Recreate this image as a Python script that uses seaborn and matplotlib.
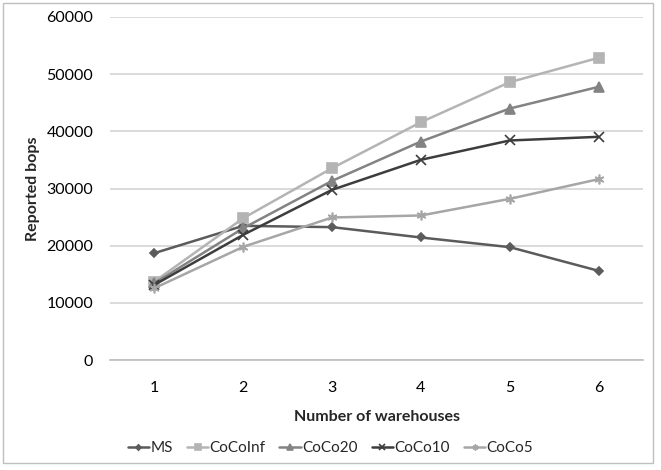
import matplotlib
matplotlib.use("Agg")
import matplotlib.pyplot as plt
import seaborn as sns
import pandas as pd
from matplotlib.patches import Rectangle

warehouses = [1, 2, 3, 4, 5, 6]
series_names = ["MS", "CoCoInf", "CoCo20", "CoCo10", "CoCo5"]
ms = [18700, 23470, 23240, 21430, 19740, 15600]
coco_inf = [13730, 24810, 33560, 41600, 48600, 52860]
coco20 = [13440, 23060, 31340, 38220, 43990, 47780]
coco10 = [13150, 21900, 29770, 35020, 38400, 39040]
coco5 = [12570, 19800, 24930, 25280, 28190, 31630]
y_ticks = [0, 10000, 20000, 30000, 40000, 50000, 60000]

values = [ms, coco_inf, coco20, coco10, coco5]
df = pd.DataFrame({
    "warehouses": warehouses * len(series_names),
    "bops": [v for s in values for v in s],
    "series": [n for n in series_names for _ in warehouses],
})

palette = {"MS": "#5b5b5b", "CoCoInf": "#b4b4b4", "CoCo20": "#838383",
           "CoCo10": "#3d3d3d", "CoCo5": "#a6a6a6"}
markers = {"MS": "D", "CoCoInf": "s", "CoCo20": "^", "CoCo10": "x",
           "CoCo5": (6, 2, 0)}
sizes = {"MS": 4.5, "CoCoInf": 6.5, "CoCo20": 6.5, "CoCo10": 6.5, "CoCo5": 7}

sns.set_theme(style="white")
plt.rcParams["font.family"] = ["Lato", "DejaVu Sans"]

fig = plt.figure(figsize=(6.61, 4.70), dpi=100)
ax = fig.add_axes([110 / 661, 1 - 360 / 470, 533 / 661, 343 / 470])

for name in series_names:
    sub = df[df["series"] == name]
    sns.lineplot(data=sub, x="warehouses", y="bops", ax=ax,
                 color=palette[name], marker=markers[name],
                 markersize=sizes[name], markeredgecolor=palette[name],
                 markeredgewidth=1.2, linewidth=1.8, label=name)

ax.set_xlim(0.5, 6.5)
ax.set_ylim(0, 60000)
ax.set_yticks(y_ticks)
ax.set_yticklabels([str(t) for t in y_ticks])
ax.set_xticks(warehouses)
ax.set_xticklabels([str(w) for w in warehouses])
ax.yaxis.grid(True, color="#d4d4d4", linewidth=1.2)
ax.set_axisbelow(True)
for side in ["top", "right", "left"]:
    ax.spines[side].set_visible(False)
ax.spines["bottom"].set_color("#bdbdbd")
ax.spines["bottom"].set_linewidth(1.2)
ax.tick_params(axis="both", length=0, labelsize=11.5, colors="#000000")
ax.tick_params(axis="y", pad=12)
ax.tick_params(axis="x", pad=15)

ax.set_xlabel("Number of warehouses", fontsize=11.5, fontweight="bold",
              labelpad=11)
ax.set_ylabel("Reported bops", fontsize=11.5, fontweight="bold", labelpad=5)

ax.legend(loc="center", bbox_to_anchor=(0.5, 1 - 448 / 470),
          bbox_transform=fig.transFigure, ncol=5,
          frameon=False, fontsize=11, handlelength=1.4, handletextpad=0.1,
          columnspacing=0.9, markerscale=0.6)

fig.patches.append(Rectangle((3 / 661, 7 / 470), 650 / 661, 460 / 470,
                             transform=fig.transFigure, fill=False,
                             edgecolor="#bfbfbf", linewidth=1.0))

fig.savefig("out.png", dpi=100)
